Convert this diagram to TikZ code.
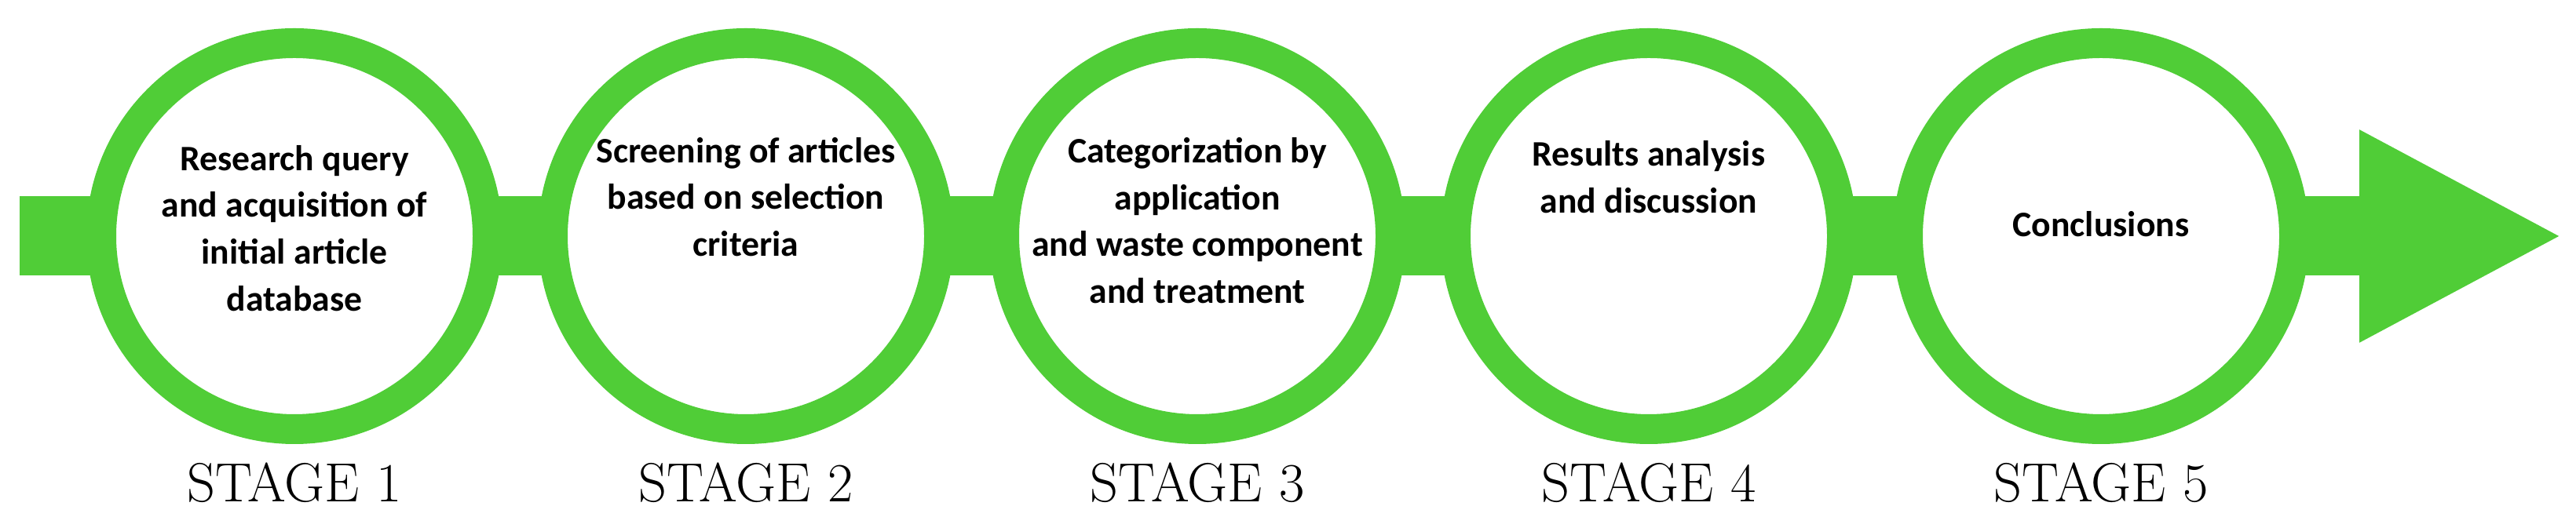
\documentclass[tikz,border=0pt]{standalone}
\usepackage{fontspec}
\setmainfont{Latin Modern Roman}
\newfontfamily\stepfont{Carlito}
\usetikzlibrary{arrows.meta}
\definecolor{stepgreen}{RGB}{80,205,55}
\begin{document}
\begin{tikzpicture}

        \tikzset{
            ring/.style={draw=stepgreen, line width=3.8mm, circle, fill=white, minimum size=49.2mm, inner sep=0pt},
            step_text/.style={align=center, font=\stepfont\bfseries\fontsize{13}{17}\selectfont},
            stage/.style={font=\fontsize{20}{22}\selectfont},
            flow/.style={stepgreen, line width=10.1mm, -{Triangle[length=26mm, width=25.1mm]}}
        }

        \useasboundingbox (0,0) rectangle (32.81,6.73);

        \coordinate (start) at (0.25, 3.72);
        \coordinate (tip) at (32.65, 3.72);
        \draw[flow] (start) -- (tip);

        \node[ring] (stage1) at (3.75, 3.72) {};
        \node[ring] (stage2) at (9.50, 3.72) {};
        \node[ring] (stage3) at (15.25, 3.72) {};
        \node[ring] (stage4) at (21.00, 3.72) {};
        \node[ring] (stage5) at (26.76, 3.72) {};

        \node[step_text] (text1) at ([yshift=1mm]stage1) {Research query\\and acquisition of\\initial article\\database};
        \node[step_text] (text2) at ([yshift=5mm]stage2) {Screening of articles\\based on selection\\criteria};
        \node[step_text] (text3) at ([yshift=2mm]stage3) {Categorization by\\application\\and waste component\\and treatment};
        \node[step_text] (text4) at ([yshift=7.5mm]stage4) {Results analysis\\and discussion};
        \node[step_text] (text5) at ([yshift=1.5mm]stage5) {Conclusions};

        \foreach \i in {1,...,5} {
            \node[stage] (label\i) at ([yshift=-31.4mm]stage\i) {STAGE \i};
        }

    \end{tikzpicture}
\end{document}
